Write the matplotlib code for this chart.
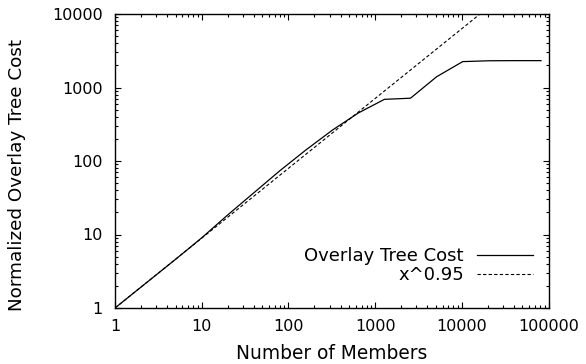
import numpy as np
import matplotlib
matplotlib.use("Agg")
import matplotlib.pyplot as plt
from matplotlib.ticker import LogLocator, FixedLocator, FixedFormatter, NullFormatter

plt.rcParams['font.family'] = ['DejaVu Sans']

# data
members = [1, 5, 10, 20, 40, 80, 160, 320, 640, 1280, 2560, 5120, 10240, 20480, 40960, 81920]
tree_cost = [1, 4.6, 9.0, 18.5, 37, 74, 142, 262, 450, 690, 715, 1400, 2250, 2310, 2320, 2320]
fit_exp = 0.95

xticks = [1, 10, 100, 1000, 10000, 100000]
yticks = [1, 10, 100, 1000, 10000]

fig = plt.figure(figsize=(5.86, 3.64), dpi=100)
ax = fig.add_axes([115 / 586, 1 - 308 / 364, 433.5 / 586, 294 / 364])

ax.plot(members, tree_cost, color='black', lw=0.9, label='Overlay Tree Cost')
xf = np.logspace(0, 5, 400)
ax.plot(xf, xf ** fit_exp, color='black', lw=0.8, ls=(0, (3, 2)), label='x^0.95')

ax.set_xscale('log')
ax.set_yscale('log')
ax.set_xlim(1, 100000)
ax.set_ylim(1, 10000)

ax.xaxis.set_major_locator(FixedLocator(xticks))
ax.xaxis.set_major_formatter(FixedFormatter([str(t) for t in xticks]))
ax.yaxis.set_major_locator(FixedLocator(yticks))
ax.yaxis.set_major_formatter(FixedFormatter([str(t) for t in yticks]))
ax.xaxis.set_minor_locator(LogLocator(base=10, subs=np.arange(2, 10)))
ax.yaxis.set_minor_locator(LogLocator(base=10, subs=np.arange(2, 10)))
ax.xaxis.set_minor_formatter(NullFormatter())
ax.yaxis.set_minor_formatter(NullFormatter())

ax.tick_params(which='both', direction='in', top=True, right=True, labelsize=11.5, width=0.8)
ax.tick_params(which='major', length=4)
ax.tick_params(which='minor', length=2.2)
ax.tick_params(axis='x', which='major', pad=8)
ax.tick_params(axis='y', which='major', pad=9)
for sp in ax.spines.values():
    sp.set_linewidth(1.0)

ax.set_xlabel('Number of Members', fontsize=13.4, labelpad=7)
ax.set_ylabel('Normalized Overlay Tree Cost', fontsize=13.2)
ax.yaxis.set_label_coords(-89 / 433.5, 0.452)

ax.legend(loc='upper right', frameon=False, markerfirst=False, fontsize=13,
          handlelength=3.1, handletextpad=0.72, labelspacing=0.05,
          borderpad=0, borderaxespad=0,
          bbox_to_anchor=(0.964, 0.207))

fig.savefig('out.png', dpi=100)
